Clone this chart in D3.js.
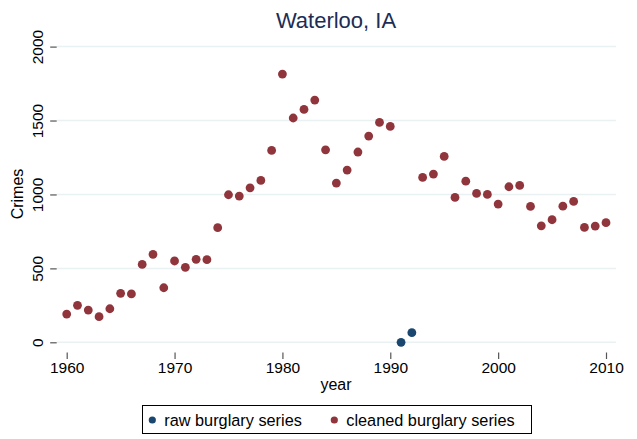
<!DOCTYPE html>
<html>
<head>
<meta charset="utf-8">
<script src="https://cdn.jsdelivr.net/npm/d3@7"></script>
<style>
  body { margin: 0; background: #fff; }
  svg { display: block; font-family: "Liberation Sans", Arial, sans-serif; }
</style>
</head>
<body>
<script>

// data
var years = [1960, 1961, 1962, 1963, 1964, 1965, 1966, 1967, 1968, 1969,
             1970, 1971, 1972, 1973, 1974, 1975, 1976, 1977, 1978, 1979,
             1980, 1981, 1982, 1983, 1984, 1985, 1986, 1987, 1988, 1989,
             1990, 1993, 1994, 1995, 1996, 1997, 1998, 1999,
             2000, 2001, 2002, 2003, 2004, 2005, 2006, 2007, 2008, 2009, 2010];
var cleaned = [191, 250, 218, 173, 227, 331, 327, 527, 595, 369,
               550, 507, 561, 559, 775, 998, 989, 1045, 1095, 1298,
               1814, 1517, 1575, 1638, 1302, 1077, 1165, 1287, 1395, 1487,
               1460, 1115, 1138, 1257, 980, 1090, 1007, 1000,
               935, 1052, 1061, 919, 788, 829, 921, 953, 777, 786, 809];

// raw series only differs from the cleaned one in these years
var rawYears = [1991, 1992];
var raw = [0, 65];

var xTicks = [1960, 1970, 1980, 1990, 2000, 2010];
var yTicks = [0, 500, 1000, 1500, 2000];

var width = 637;
var height = 439;

var rawColor = "#1a476f";
var cleanColor = "#90353b";
var labelSize = "15.5px";

var svg = d3.select("body")
.append("svg")
.attr("width", width)
.attr("height", height);

var xScale = d3.scaleLinear()
.domain([1960, 2010])
.range([66.7, 606]);

var yScale = d3.scaleLinear()
.domain([0, 2000])
.range([342.3, 46.6]);

//Title
svg.append("text")
.attr("x", 336)
.attr("y", 28)
.attr("text-anchor", "middle")
.attr("fill", "#1c2d55")
.style("font-size", "22px")
.text("Waterloo, IA");

//Gridlines
svg.append("g")
.selectAll("line")
.data(yTicks)
.join("line")
.attr("x1", 56.7)
.attr("x2", 616)
.attr("y1", d => yScale(d))
.attr("y2", d => yScale(d))
.attr("stroke", "#eaf1f3")
.attr("stroke-width", 1.5);

//Y axis (no domain line, rotated labels)
var yAxis = svg.append("g")
.attr("transform", "translate(56.7,0)")
.call(d3.axisLeft(yScale).tickValues(yTicks).tickSize(6.5).tickPadding(0).tickFormat(d3.format("d")));
yAxis.select(".domain").remove();
yAxis.selectAll(".tick line").attr("stroke", "#555").attr("stroke-width", 1.2);
yAxis.selectAll(".tick text")
.attr("x", null)
.attr("dy", null)
.attr("text-anchor", "middle")
.attr("transform", "translate(-13.5,0) rotate(-90)")
.attr("fill", "#000")
.style("font-size", labelSize)
.style("font-family", "Liberation Sans, Arial, sans-serif");

//X axis
var xAxis = svg.append("g")
.attr("transform", "translate(0,352.5)")
.call(d3.axisBottom(xScale).tickValues(xTicks).tickSize(6.5).tickPadding(3).tickFormat(d3.format("d")));
xAxis.select(".domain").remove();
xAxis.selectAll(".tick line").attr("stroke", "#555").attr("stroke-width", 1.2);
xAxis.selectAll(".tick text")
.attr("fill", "#000")
.style("font-size", labelSize)
.style("font-family", "Liberation Sans, Arial, sans-serif");

//Axis titles
svg.append("text")
.attr("transform", "translate(23,194) rotate(-90)")
.attr("text-anchor", "middle")
.style("font-size", "16px")
.text("Crimes");

svg.append("text")
.attr("x", 336)
.attr("y", 390)
.attr("text-anchor", "middle")
.style("font-size", "16px")
.text("year");

//Points: raw first, cleaned on top
svg.append("g")
.selectAll("circle")
.data(rawYears)
.join("circle")
.attr("cx", d => xScale(d))
.attr("cy", (d, i) => yScale(raw[i]))
.attr("r", 4.4)
.attr("fill", rawColor);

svg.append("g")
.selectAll("circle")
.data(years)
.join("circle")
.attr("cx", d => xScale(d))
.attr("cy", (d, i) => yScale(cleaned[i]))
.attr("r", 4.4)
.attr("fill", cleanColor);

//Legend
var legend = svg.append("g");
legend.append("rect")
.attr("x", 142.5)
.attr("y", 405.5)
.attr("width", 389)
.attr("height", 28)
.attr("fill", "#fff")
.attr("stroke", "#000")
.attr("stroke-width", 1);

var legendItems = [
    {label: "raw burglary series", color: rawColor, x: 152.3},
    {label: "cleaned burglary series", color: cleanColor, x: 334.3}
];
legendItems.forEach(item => {
    legend.append("circle")
    .attr("cx", item.x)
    .attr("cy", 420)
    .attr("r", 3.6)
    .attr("fill", item.color);
    legend.append("text")
    .attr("x", item.x + 12)
    .attr("y", 425.5)
    .style("font-size", "16.3px")
    .text(item.label);
});

</script>
</body>
</html>
